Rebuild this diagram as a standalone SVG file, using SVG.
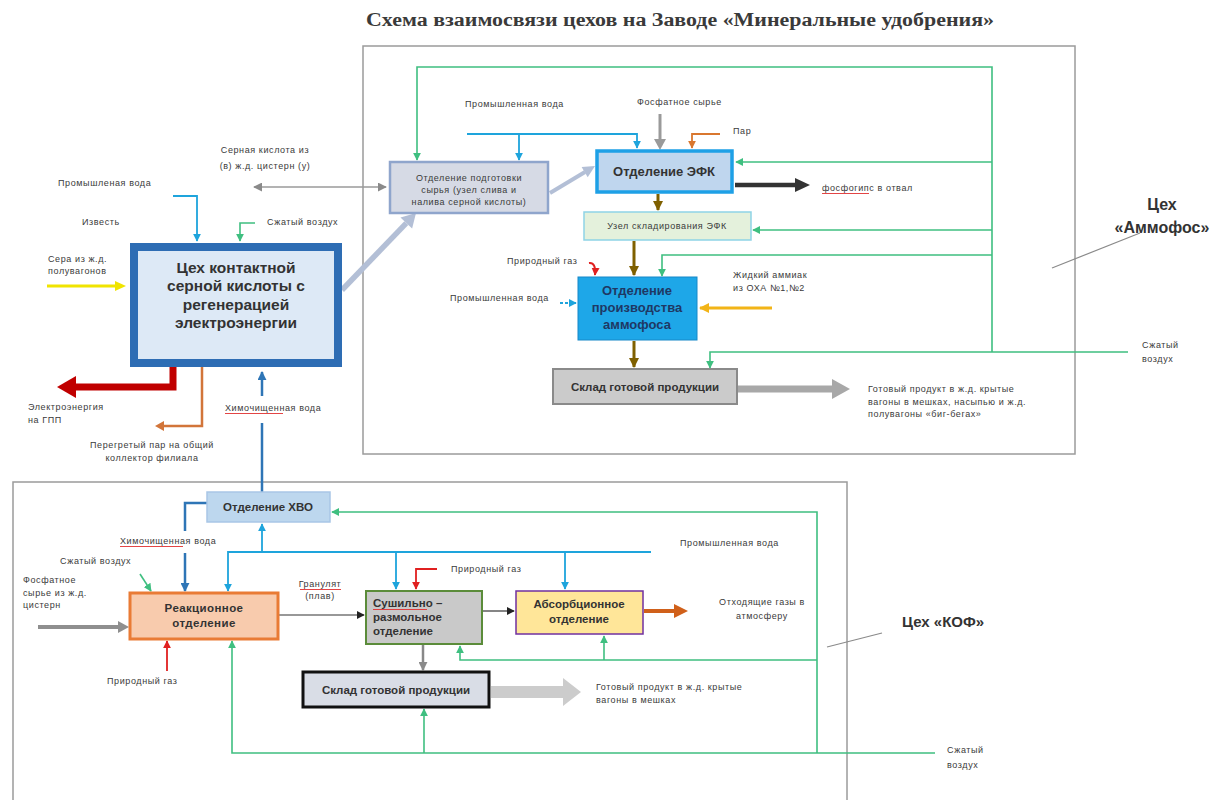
<svg xmlns="http://www.w3.org/2000/svg" width="1212" height="800" viewBox="0 0 1212 800">
<style>
.lbl{font-family:"Liberation Sans",Arial,sans-serif;font-size:9px;letter-spacing:0.6px;fill:#3a3a3a}
.b{font-family:"Liberation Sans",Arial,sans-serif;font-weight:bold;fill:#333}
.frame{fill:none;stroke:#9b9b9b;stroke-width:1.5}
.g{fill:none;stroke:#3fbf80;stroke-width:1.6}
.c{fill:none;stroke:#1ea4dc;stroke-width:1.8}
.bl{fill:none;stroke:#2e75b6;stroke-width:2.5}
.sp{fill:none;stroke:#e03030;stroke-width:0.9}
</style>
<defs>
<marker id="aG" markerUnits="userSpaceOnUse" markerWidth="8" markerHeight="8" viewBox="0 0 10 10" refX="9" refY="5" orient="auto"><path d="M0,0 L10,5 L0,10 z" fill="#3fbf80"/></marker>
<marker id="aC" markerUnits="userSpaceOnUse" markerWidth="8" markerHeight="8" viewBox="0 0 10 10" refX="9" refY="5" orient="auto"><path d="M0,0 L10,5 L0,10 z" fill="#1ea4dc"/></marker>
<marker id="aB" markerUnits="userSpaceOnUse" markerWidth="9" markerHeight="9" viewBox="0 0 10 10" refX="9" refY="5" orient="auto"><path d="M0,0 L10,5 L0,10 z" fill="#2e75b6"/></marker>
<marker id="aBr" markerUnits="userSpaceOnUse" markerWidth="10" markerHeight="10" viewBox="0 0 10 10" refX="9" refY="5" orient="auto"><path d="M0,0 L10,5 L0,10 z" fill="#7f6000"/></marker>
<marker id="aR" markerUnits="userSpaceOnUse" markerWidth="8" markerHeight="8" viewBox="0 0 10 10" refX="9" refY="5" orient="auto"><path d="M0,0 L10,5 L0,10 z" fill="#e02020"/></marker>
<marker id="aO" markerUnits="userSpaceOnUse" markerWidth="8" markerHeight="8" viewBox="0 0 10 10" refX="9" refY="5" orient="auto"><path d="M0,0 L10,5 L0,10 z" fill="#d9772f"/></marker>
<marker id="aGo" markerUnits="userSpaceOnUse" markerWidth="10" markerHeight="10" viewBox="0 0 10 10" refX="9" refY="5" orient="auto"><path d="M0,0 L10,5 L0,10 z" fill="#f2b417"/></marker>
<marker id="aGr" markerUnits="userSpaceOnUse" markerWidth="9" markerHeight="9" viewBox="0 0 10 10" refX="9" refY="5" orient="auto-start-reverse"><path d="M0,0 L10,5 L0,10 z" fill="#8a8a8a"/></marker>
<marker id="aK" markerUnits="userSpaceOnUse" markerWidth="8" markerHeight="8" viewBox="0 0 10 10" refX="9" refY="5" orient="auto"><path d="M0,0 L10,5 L0,10 z" fill="#222"/></marker>
</defs>
<rect width="1212" height="800" fill="#ffffff"/>

<text x="680" y="26" text-anchor="middle" font-family="'Liberation Serif',serif" font-weight="bold" font-size="18" fill="#3a3a3a" textLength="628" lengthAdjust="spacingAndGlyphs">Схема взаимосвязи цехов на Заводе «Минеральные удобрения»</text>

<g id="frames">
<rect class="frame" x="363" y="46" width="712" height="408"/>
<rect class="frame" x="13" y="482" width="834" height="330"/>
<line x1="1052" y1="268" x2="1140" y2="233" stroke="#8a8a8a" stroke-width="1.2"/>
<line x1="827" y1="647" x2="882" y2="633" stroke="#8a8a8a" stroke-width="1.2"/>
</g>

<g id="connectors">
<!-- Ammofos green air -->
<path class="g" d="M992,352 V67 H417 V160" marker-end="url(#aG)"/>
<path class="g" d="M992,162 H736" marker-end="url(#aG)"/>
<path class="g" d="M992,230 H753" marker-end="url(#aG)"/>
<path class="g" d="M992,255 H662 V276" marker-end="url(#aG)"/>
<path class="g" d="M1128,352 H710 V368" marker-end="url(#aG)"/>
<!-- industrial water top -->
<path class="c" d="M467,134 H637 V148" marker-end="url(#aC)"/>
<path class="c" d="M519,134 V160" marker-end="url(#aC)"/>
<!-- phosphate raw -->
<path d="M660,114 V140" stroke="#9a9a9a" stroke-width="3" fill="none"/>
<polygon points="654,139 666,139 660,150" fill="#9a9a9a"/>
<!-- steam -->
<path d="M720,134 H692 V148" stroke="#d9772f" stroke-width="1.8" fill="none" marker-end="url(#aO)"/>
<!-- phosphogypsum -->
<path d="M735,185 H796" stroke="#333" stroke-width="4.5" fill="none"/>
<polygon points="795,178 810,185 795,192" fill="#333"/>
<!-- brown flow -->
<path d="M658,194 V210" stroke="#7f6000" stroke-width="3" fill="none" marker-end="url(#aBr)"/>
<path d="M634,241 V275" stroke="#7f6000" stroke-width="3" fill="none" marker-end="url(#aBr)"/>
<path d="M634,341 V367" stroke="#7f6000" stroke-width="3" fill="none" marker-end="url(#aBr)"/>
<!-- natural gas ammofos -->
<path d="M589,263 Q596,262 595,275" stroke="#e02020" stroke-width="2" fill="none" marker-end="url(#aR)"/>
<!-- industrial water mid -->
<path d="M560,303 H576" stroke="#1ea4dc" stroke-width="1.8" stroke-dasharray="3,2" fill="none" marker-end="url(#aC)"/>
<!-- liquid ammonia -->
<path d="M772,308 H700" stroke="#f2b417" stroke-width="3" fill="none" marker-end="url(#aGo)"/>
<!-- product out ammofos -->
<path d="M738,389 H833" stroke="#a8a8a8" stroke-width="7" fill="none"/>
<polygon points="832,379 850,389 832,399" fill="#a8a8a8"/>
<!-- prep -> EFK -->
<path d="M550,193 L585,172" stroke="#b3bfd6" stroke-width="4" fill="none"/>
<polygon points="595,166 587.7,177.3 581.6,167" fill="#b3bfd6"/>
<!-- acid plant -> prep -->
<path d="M342,290 L406.3,223.1" stroke="#b3bfd6" stroke-width="5.5" fill="none"/>
<polygon points="416,213 412.1,228.6 400.5,217.6" fill="#b3bfd6"/>
<!-- sulfuric acid double -->
<path d="M254,187 H386" stroke="#9a9a9a" stroke-width="1.5" fill="none" marker-start="url(#aGr)" marker-end="url(#aGr)"/>
<!-- acid plant inputs -->
<path class="c" d="M173,196 H197 V241" marker-end="url(#aC)"/>
<path class="g" d="M255,223 H240 V241" marker-end="url(#aG)"/>
<path d="M47,286 H116" stroke="#f0e400" stroke-width="3" fill="none"/>
<polygon points="115,281 126,286 115,291" fill="#f0e400"/>
<!-- acid plant outputs -->
<path d="M173,366 V387 H74" stroke="#c00000" stroke-width="7" fill="none"/>
<polygon points="76,376 57,387 76,398" fill="#c00000"/>
<path d="M202,367 V426 H163" stroke="#d2753a" stroke-width="2.5" fill="none"/>
<polygon points="164,421 155,426 164,431" fill="#d2753a"/>
<path class="bl" d="M262,492 V423"/>
<path class="bl" d="M262,396 V372" marker-end="url(#aB)"/>
<!-- KOF -->
<path class="bl" d="M207,503 H185 V531"/>
<path class="bl" d="M185,553 V591" marker-end="url(#aB)"/>
<path class="c" d="M651,552 H228 V591" marker-end="url(#aC)"/>
<path class="c" d="M262,552 V524" marker-end="url(#aC)"/>
<path class="c" d="M396,552 V589" marker-end="url(#aC)"/>
<path class="c" d="M565,552 V589" marker-end="url(#aC)"/>
<path class="g" d="M817,753 V512 H332" marker-end="url(#aG)"/>
<path class="g" d="M817,660 H460 V646" marker-end="url(#aG)"/>
<path class="g" d="M604,660 V636" marker-end="url(#aG)"/>
<path class="g" d="M935,753 H232 V641" marker-end="url(#aG)"/>
<path class="g" d="M424,753 V709" marker-end="url(#aG)"/>
<path class="g" d="M140,574 L151,591" marker-end="url(#aG)"/>
<path d="M38,627 H119" stroke="#8f8f8f" stroke-width="4" fill="none"/>
<polygon points="118,621 129,627 118,633" fill="#8f8f8f"/>
<path d="M167,671 V641" stroke="#e02020" stroke-width="1.8" fill="none" marker-end="url(#aR)"/>
<path d="M279,615 H364" stroke="#333" stroke-width="1.2" fill="none" marker-end="url(#aK)"/>
<path d="M483,611 H514" stroke="#333" stroke-width="1.2" fill="none" marker-end="url(#aK)"/>
<path d="M644,611 H675" stroke="#d0601a" stroke-width="4" fill="none"/>
<polygon points="674,604 688,611 674,618" fill="#d0601a"/>
<path d="M437,569 H416 V589" stroke="#e02020" stroke-width="1.8" fill="none" marker-end="url(#aR)"/>
<path d="M423,645 V670" stroke="#888" stroke-width="2.5" fill="none" marker-end="url(#aGr)"/>
<path d="M491,692 H564" stroke="#cccccc" stroke-width="12" fill="none"/>
<polygon points="563,678 581,692 563,706" fill="#cccccc"/>
</g>

<g id="acid-plant">
<rect x="134" y="247" width="204" height="116" fill="#dde9f6" stroke="#2e6db4" stroke-width="8"/>
<text class="b" font-size="15.5" text-anchor="middle"><tspan x="236" y="273">Цех контактной</tspan><tspan x="236" y="291">серной кислоты с</tspan><tspan x="236" y="310">регенерацией</tspan><tspan x="236" y="328">электроэнергии</tspan></text>
</g>
<g id="prep">
<rect x="390" y="162" width="158" height="51" fill="#d6dae5" stroke="#8fa5cc" stroke-width="2.5"/>
<text class="lbl" text-anchor="middle" letter-spacing="0.3"><tspan x="469" y="181">Отделение подготовки</tspan><tspan x="469" y="193">сырья (узел слива и</tspan><tspan x="469" y="205">налива серной кислоты)</tspan></text>
</g>
<g id="efk">
<rect x="597" y="151" width="135" height="41" fill="#bfd6ee" stroke="#1ea0e6" stroke-width="3.5"/>
<text class="b" font-size="13" x="664" y="176" text-anchor="middle">Отделение ЭФК</text>
</g>
<g id="efk-store">
<rect x="584" y="212" width="167" height="28" fill="#e4f1dc" stroke="#8ed3e6" stroke-width="1.5"/>
<text class="lbl" x="667" y="229" text-anchor="middle">Узел складирования  ЭФК</text>
</g>
<g id="ammofos-prod">
<rect x="578" y="277" width="119" height="63" fill="#1ea7e8" stroke="#1788c8" stroke-width="1"/>
<text class="b" font-size="13" fill="#1f3864" text-anchor="middle" style="fill:#1f3864"><tspan x="637" y="295">Отделение</tspan><tspan x="637" y="312">производства</tspan><tspan x="637" y="329">аммофоса</tspan></text>
</g>
<g id="ammofos-store">
<rect x="553" y="369" width="184" height="35" fill="#cbcbcb" stroke="#8a8a8a" stroke-width="2"/>
<text class="b" font-size="11.5" x="645" y="391" text-anchor="middle">Склад готовой продукции</text>
</g>
<g id="hvo">
<rect x="207" y="492" width="123" height="30" fill="#bdd7ee" stroke="#a9c6e6" stroke-width="1.5"/>
<text class="b" font-size="11.5" x="268" y="511" text-anchor="middle">Отделение ХВО</text>
</g>
<g id="reaction">
<rect x="130" y="593" width="148" height="46" fill="#f8cbad" stroke="#e97b35" stroke-width="3"/>
<text class="b" font-size="11.5" text-anchor="middle" letter-spacing="0.4"><tspan x="204" y="612">Реакционное</tspan><tspan x="204" y="627">отделение</tspan></text>
</g>
<g id="drying">
<rect x="366" y="591" width="116" height="53" fill="#c9c9c9" stroke="#5b8c3a" stroke-width="2"/>
<text class="b" font-size="11.5"><tspan x="373" y="607">Сушильно –</tspan><tspan x="373" y="621">размольное</tspan><tspan x="373" y="635">отделение</tspan></text>
<line class="sp" x1="373" y1="609.5" x2="427" y2="609.5"/>
</g>
<g id="absorption">
<rect x="516" y="591" width="127" height="43" fill="#ffe699" stroke="#7030a0" stroke-width="1.5"/>
<text class="b" font-size="11.5" text-anchor="middle"><tspan x="579" y="608">Абсорбционное</tspan><tspan x="579" y="623">отделение</tspan></text>
</g>
<g id="kof-store">
<rect x="303" y="672" width="186" height="35" fill="#d9dde6" stroke="#111" stroke-width="3"/>
<text class="b" font-size="11.5" x="396" y="694" text-anchor="middle">Склад готовой продукции</text>
</g>

<g id="labels">
<text class="lbl" x="465" y="107">Промышленная  вода</text>
<text class="lbl" x="637" y="105">Фосфатное  сырье</text>
<text class="lbl" x="733" y="134">Пар</text>
<text class="lbl" text-anchor="middle"><tspan x="265" y="153">Серная кислота из</tspan><tspan x="265" y="169">(в) ж.д. цистерн (у)</tspan></text>
<text class="lbl" x="58" y="186">Промышленая  вода</text>
<text class="lbl" x="82" y="225">Известь</text>
<text class="lbl" x="267" y="225">Сжатый воздух</text>
<text class="lbl"><tspan x="48" y="262">Сера из ж.д.</tspan><tspan x="48" y="274">полувагонов</tspan></text>
<text class="lbl"><tspan x="28" y="410">Электроэнергия</tspan><tspan x="28" y="423">на ГПП</tspan></text>
<text class="lbl" text-anchor="middle"><tspan x="152" y="448">Перегретый  пар на  общий</tspan><tspan x="152" y="461">коллектор филиала</tspan></text>
<text class="lbl" x="225" y="411">Химочищенная  вода</text>
<line class="sp" x1="225" y1="413.5" x2="283" y2="413.5"/>
<text class="lbl" x="507" y="264">Природный газ</text>
<text class="lbl" x="450" y="301">Промышленная  вода</text>
<text class="lbl"><tspan x="733" y="278">Жидкий аммиак</tspan><tspan x="733" y="291">из ОХА №1,№2</tspan></text>
<text class="lbl" x="822" y="191">фосфогипс  в отвал</text>
<line class="sp" x1="822" y1="193.5" x2="869" y2="193.5"/>
<text class="lbl"><tspan x="868" y="392">Готовый продукт  в ж.д. крытые</tspan><tspan x="868" y="405">вагоны  в мешках,  насыпью  и ж.д.</tspan><tspan x="868" y="417">полувагоны  «биг-бегах»</tspan></text>
<text class="b" font-size="16" text-anchor="middle"><tspan x="1162" y="210">Цех</tspan><tspan x="1162" y="233">«Аммофос»</tspan></text>
<text class="lbl"><tspan x="1142" y="348">Сжатый</tspan><tspan x="1142" y="362">воздух</tspan></text>

<text class="lbl" x="120" y="544">Химочищенная  вода</text>
<line class="sp" x1="120" y1="546.5" x2="183" y2="546.5"/>
<text class="lbl" x="60" y="564">Сжатый воздух</text>
<text class="lbl"><tspan x="23" y="583">Фосфатное</tspan><tspan x="23" y="596">сырье из ж.д.</tspan><tspan x="23" y="608">цистерн</tspan></text>
<text class="lbl" x="107" y="684">Природный газ</text>
<text class="lbl" text-anchor="middle" letter-spacing="0.2"><tspan x="320" y="587">Гранулят</tspan><tspan x="320" y="599">(плав)</tspan></text>
<line class="sp" x1="300" y1="589.5" x2="341" y2="589.5"/>
<text class="lbl" x="680" y="546">Промышленная  вода</text>
<text class="lbl" x="451" y="572">Природный газ</text>
<text class="lbl" text-anchor="middle"><tspan x="762" y="605">Отходящие газы в</tspan><tspan x="762" y="619">атмосферу</tspan></text>
<text class="lbl"><tspan x="596" y="690">Готовый продукт  в ж.д. крытые</tspan><tspan x="596" y="703">вагоны  в мешках</tspan></text>
<text class="b" font-size="15" x="902" y="627">Цех «КОФ»</text>
<text class="lbl"><tspan x="947" y="753">Сжатый</tspan><tspan x="947" y="768">воздух</tspan></text>
</g>
</svg>
